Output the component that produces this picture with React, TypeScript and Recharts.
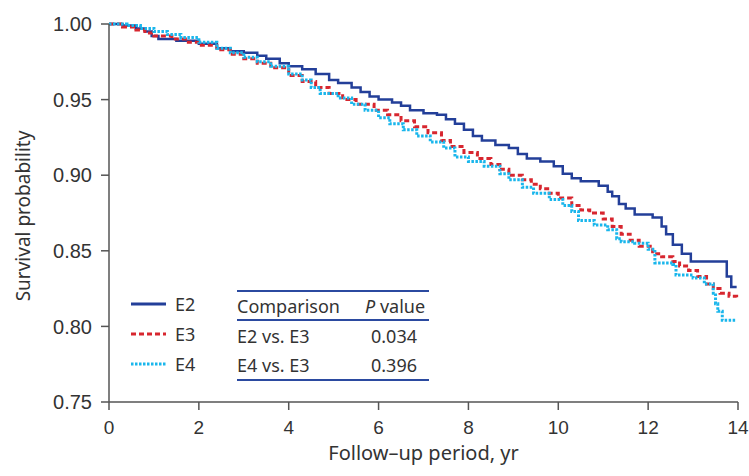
import React from 'react';
import { LineChart, Line, XAxis, YAxis } from 'recharts';

// Kaplan–Meier estimates (years, survival probability)
const e2Time = [0, 0.3, 0.6, 0.8, 0.95, 1.1, 1.5, 2.0, 2.4, 2.7, 3.0, 3.3, 3.5, 3.8, 4.0, 4.3, 4.6, 4.9, 5.1, 5.4, 5.6, 5.8, 6.0, 6.3, 6.5, 6.7, 7.0, 7.3, 7.5, 7.7, 7.9, 8.1, 8.3, 8.6, 8.9, 9.1, 9.3, 9.6, 9.9, 10.1, 10.3, 10.5, 10.9, 11.1, 11.2, 11.35, 11.5, 11.7, 12.1, 12.3, 12.4, 12.55, 12.75, 12.95, 13.75, 13.85, 13.97];
const e2Surv = [1.0, 0.999, 0.997, 0.995, 0.992, 0.99, 0.989, 0.987, 0.984, 0.982, 0.981, 0.979, 0.977, 0.974, 0.972, 0.97, 0.967, 0.963, 0.961, 0.958, 0.955, 0.952, 0.95, 0.948, 0.946, 0.943, 0.941, 0.94, 0.937, 0.934, 0.93, 0.926, 0.923, 0.92, 0.918, 0.914, 0.911, 0.909, 0.906, 0.901, 0.898, 0.896, 0.893, 0.889, 0.886, 0.881, 0.878, 0.874, 0.872, 0.866, 0.861, 0.854, 0.848, 0.843, 0.833, 0.826, 0.826];

const e3Time = [0, 0.3, 0.6, 0.8, 1.0, 1.4, 1.7, 2.0, 2.4, 2.7, 3.0, 3.3, 3.6, 4.0, 4.3, 4.6, 4.9, 5.2, 5.5, 5.9, 6.2, 6.5, 6.8, 7.1, 7.4, 7.6, 7.9, 8.2, 8.5, 8.7, 8.9, 9.2, 9.4, 9.6, 9.8, 10.0, 10.3, 10.5, 10.7, 11.0, 11.2, 11.4, 11.6, 11.8, 12.1, 12.3, 12.55, 12.7, 12.9, 13.1, 13.3, 13.45, 13.6, 13.8, 13.97];
const e3Surv = [1.0, 0.998, 0.996, 0.994, 0.992, 0.99, 0.988, 0.986, 0.983, 0.98, 0.977, 0.974, 0.971, 0.966, 0.962, 0.958, 0.954, 0.95, 0.947, 0.943, 0.94, 0.936, 0.932, 0.928, 0.923, 0.919, 0.915, 0.911, 0.907, 0.904, 0.9, 0.897, 0.894, 0.891, 0.888, 0.885, 0.88, 0.877, 0.875, 0.871, 0.866, 0.861, 0.857, 0.853, 0.848, 0.846, 0.843, 0.84, 0.837, 0.833, 0.828, 0.825, 0.822, 0.82, 0.819];

const e4Time = [0, 0.4, 0.7, 1.0, 1.3, 1.6, 2.0, 2.4, 2.7, 3.0, 3.3, 3.6, 4.0, 4.3, 4.5, 4.7, 5.1, 5.4, 5.7, 6.0, 6.25, 6.55, 6.85, 7.15, 7.45, 7.7, 8.0, 8.35, 8.7, 8.9, 9.2, 9.45, 9.8, 10.1, 10.3, 10.45, 10.8, 11.1, 11.3, 11.4, 11.7, 12.0, 12.15, 12.55, 12.62, 13.0, 13.25, 13.45, 13.5, 13.55, 13.65, 13.97];
const e4Surv = [1.0, 0.999, 0.997, 0.995, 0.993, 0.991, 0.988, 0.984, 0.981, 0.978, 0.975, 0.972, 0.967, 0.963, 0.958, 0.954, 0.951, 0.947, 0.943, 0.938, 0.934, 0.93, 0.926, 0.922, 0.918, 0.912, 0.909, 0.906, 0.901, 0.897, 0.892, 0.888, 0.884, 0.88, 0.876, 0.87, 0.867, 0.864, 0.858, 0.856, 0.855, 0.851, 0.842, 0.841, 0.834, 0.832, 0.828, 0.822, 0.815, 0.81, 0.804, 0.804];

const xTicks = [0, 2, 4, 6, 8, 10, 12, 14];
const yTicks = [0.75, 0.8, 0.85, 0.9, 0.95, 1.0];

const groups = ['E2', 'E3', 'E4'];
const comparisons = ['E2 vs. E3', 'E4 vs. E3'];
const pValues = ['0.034', '0.396'];

const toPoints = (time: number[], surv: number[]) => time.map((t, i) => ({ t, s: surv[i] }));

const colors = { E2: '#233f99', E3: '#d7262f', E4: '#19b6ec' };
const dashes: Record<string, string | undefined> = { E2: undefined, E3: '5 3', E4: '2.5 1.5' };
const textFont = '"Noto Sans", sans-serif';
const tickFont = '"Liberation Sans", Arial, sans-serif';
const ruleColor = '#2b4aa0';

function GroupLegend() {
  return (
    <div style={{ position: 'absolute', left: 131, top: 289, fontFamily: textFont, fontSize: 18, color: '#333' }}>
      {groups.map((g) => (
        <div key={g} style={{ display: 'flex', alignItems: 'center', height: 30 }}>
          <svg width={36} height={6} style={{ marginRight: 8 }}>
            <line x1={0} y1={3} x2={35} y2={3} stroke={colors[g as keyof typeof colors]} strokeWidth={3} strokeDasharray={dashes[g]} />
          </svg>
          <span>{g}</span>
        </div>
      ))}
    </div>
  );
}

function PTable() {
  const row: React.CSSProperties = { display: 'flex', height: 29, alignItems: 'center' };
  return (
    <div style={{ position: 'absolute', left: 237, top: 290, width: 192, fontFamily: textFont, fontSize: 18, color: '#333' }}>
      <div style={{ ...row, borderTop: `2px solid ${ruleColor}`, borderBottom: `2px solid ${ruleColor}`, height: 27 }}>
        <span style={{ width: 128 }}>Comparison</span>
        <span><i>P</i> value</span>
      </div>
      {comparisons.map((c, i) => (
        <div key={c} style={{ ...row, borderBottom: i === comparisons.length - 1 ? `2px solid ${ruleColor}` : undefined }}>
          <span style={{ width: 134 }}>{c}</span>
          <span>{pValues[i]}</span>
        </div>
      ))}
    </div>
  );
}

export default function App() {
  return (
    <div style={{ position: 'absolute', left: 0, top: 0, width: 749, height: 476, background: '#fff' }}>
      <LineChart width={749} height={476} margin={{ top: 24, right: 11, left: 0, bottom: 0 }}>
        <XAxis
          type="number"
          dataKey="t"
          domain={[0, 14]}
          ticks={xTicks}
          height={74}
          tickSize={8}
          tickMargin={11}
          stroke="#555"
          strokeWidth={1.5}
          tick={{ fill: '#333', fontSize: 19, fontFamily: tickFont }}
          label={{ value: 'Follow–up period, yr', position: 'insideBottom', offset: 16, fill: '#333', fontSize: 20, fontFamily: textFont }}
        />
        <YAxis
          type="number"
          domain={[0.75, 1.0]}
          ticks={yTicks}
          width={109}
          tickSize={8}
          tickMargin={9}
          stroke="#555"
          strokeWidth={1.5}
          tickFormatter={(v: number) => v.toFixed(2)}
          tick={{ fill: '#333', fontSize: 20, fontFamily: tickFont }}
          label={{
            content: () => (
              <text x={23} y={216} transform="rotate(-90 23 216)" textAnchor="middle" dominantBaseline="central" fill="#333" fontSize={19} fontFamily={textFont}>
                Survival probability
              </text>
            ),
          }}
        />
        <Line data={toPoints(e2Time, e2Surv)} dataKey="s" name="E2" type="stepAfter" stroke={colors.E2} strokeWidth={2.5} dot={false} activeDot={false} isAnimationActive={false} />
        <Line data={toPoints(e3Time, e3Surv)} dataKey="s" name="E3" type="stepAfter" stroke={colors.E3} strokeWidth={3} strokeDasharray="5 3" dot={false} activeDot={false} isAnimationActive={false} />
        <Line data={toPoints(e4Time, e4Surv)} dataKey="s" name="E4" type="stepAfter" stroke={colors.E4} strokeWidth={3} strokeDasharray="2.5 1.5" dot={false} activeDot={false} isAnimationActive={false} />
      </LineChart>
      <GroupLegend />
      <PTable />
    </div>
  );
}
